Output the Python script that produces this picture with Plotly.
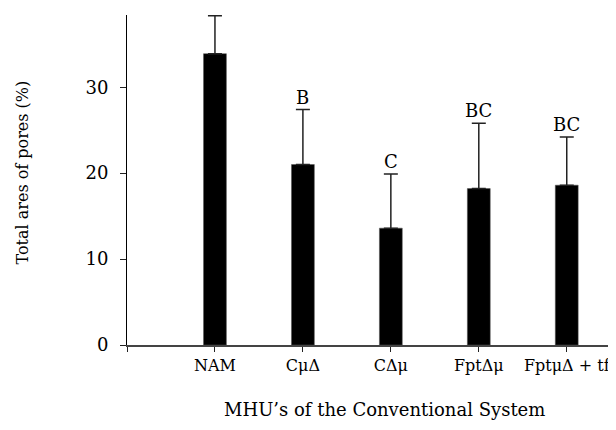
import plotly.graph_objects as go

categories = ["NAM", "CμΔ", "CΔμ", "FptΔμ", "FptμΔ + tf"]
means = [33.9, 21.0, 13.6, 18.2, 18.6]
sds = [4.4, 6.4, 6.3, 7.6, 5.6]
letters = ["", "B", "C", "BC", "BC"]
y_ticks = [0, 10, 20, 30]

FONT = "DejaVu Serif"
xpos = list(range(len(categories)))

fig = go.Figure()
fig.add_trace(go.Bar(
    x=xpos, y=means, width=0.26,
    marker=dict(color="black", line=dict(color="#555", width=0.5)),
    error_y=dict(type="data", array=sds, symmetric=False, arrayminus=[0]*len(sds),
                 color="#222", thickness=1.5, width=7),
    showlegend=False,
))

for x, m, s, l in zip(xpos, means, sds, letters):
    if l:
        fig.add_annotation(x=x, y=m + s, text=l, showarrow=False, yanchor="bottom",
                           yshift=0, font=dict(family=FONT, size=18, color="black"))

# plot area: 489 px wide (fig x 119..608), 330 px tall (fig y 7..337)
fig.add_annotation(xref="paper", yref="paper", x=(14 - 119) / 489, y=(337 - 164.5) / 330,
                   xanchor="center", yanchor="middle",
                   text="Total ares of pores (%)", textangle=-90, showarrow=False,
                   font=dict(family=FONT, size=16, color="black"))
fig.add_annotation(xref="paper", yref="paper", x=(376.5 - 119) / 489, y=(337 - 401.5) / 330,
                   xanchor="center", yanchor="middle",
                   text="MHU’s of the Conventional System", showarrow=False,
                   font=dict(family=FONT, size=18, color="black"))

fig.update_layout(
    width=608, height=414,
    margin=dict(l=119, r=0, t=7, b=77),
    paper_bgcolor="white", plot_bgcolor="white",
    font=dict(family=FONT, size=16, color="black"),
    xaxis=dict(range=[-1, 4.56], tickmode="array", tickvals=[-1] + xpos,
               ticktext=[""] + categories, ticks="outside", ticklen=5, tickcolor="#222",
               showline=True, linecolor="#444", linewidth=2, showgrid=False, zeroline=False,
               ticklabeloverflow="allow", tickfont=dict(family=FONT, size=16)),
    yaxis=dict(range=[0, 38.4], tickmode="array", tickvals=y_ticks, ticks="outside",
               ticklen=6, tickcolor="#222", showline=True, linecolor="black", linewidth=1,
               showgrid=False, zeroline=False, ticklabelstandoff=8,
               tickfont=dict(family=FONT, size=18)),
)

fig.write_html("out.html")
